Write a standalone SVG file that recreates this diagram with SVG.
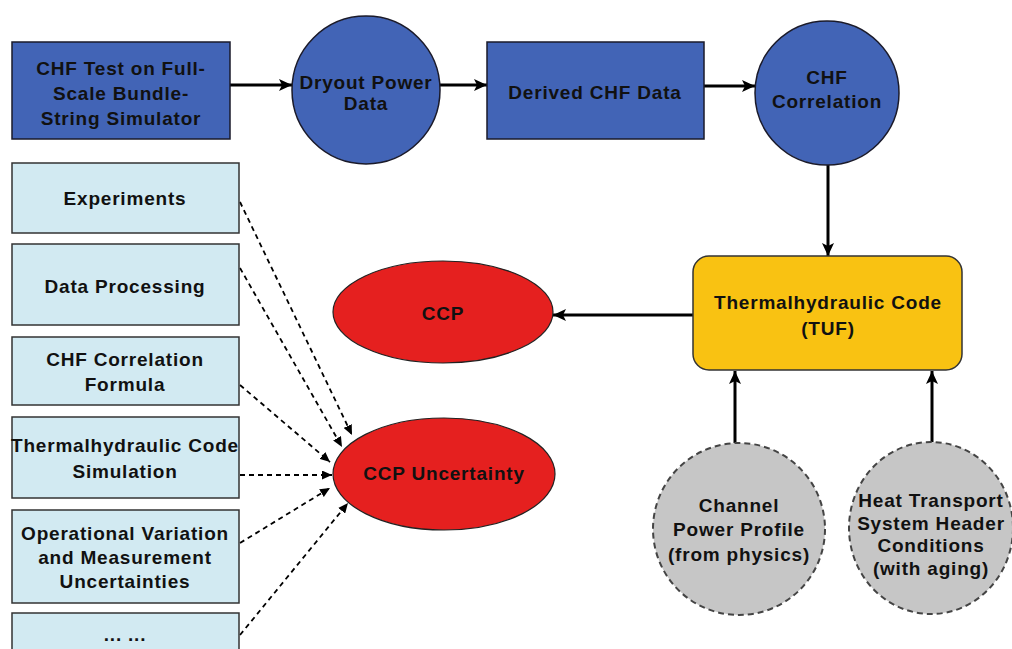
<svg xmlns="http://www.w3.org/2000/svg" width="1012" height="649" viewBox="0 0 1012 649">
<defs>
<marker id="ah" markerUnits="userSpaceOnUse" markerWidth="14" markerHeight="12" refX="13" refY="6" orient="auto"><path d="M0,0 L13,6 L0,12 L3,6 Z" fill="#000"/></marker>
<marker id="ahs" markerUnits="userSpaceOnUse" markerWidth="11" markerHeight="9" refX="10" refY="4.5" orient="auto"><path d="M0,0 L10,4.5 L0,9 Z" fill="#000"/></marker>
</defs>
<style>
.t{font-family:"Liberation Sans",Arial,sans-serif;font-weight:bold;font-size:19px;letter-spacing:0.8px;fill:#111;text-anchor:middle;dominant-baseline:central}
.blue{fill:#4264b6;stroke:#1a1a2a;stroke-width:1.5}
.lb{fill:#d2eaf2;stroke:#333;stroke-width:1.5}
.red{fill:#e5201f;stroke:#222;stroke-width:1.2}
.grey{fill:#c6c6c6;stroke:#444;stroke-width:2;stroke-dasharray:6,4}
.thick{stroke:#000;stroke-width:3;fill:none;marker-end:url(#ah)}
.dash{stroke:#000;stroke-width:1.8;fill:none;stroke-dasharray:5,4;marker-end:url(#ahs)}
</style>
<rect width="1012" height="649" fill="#fff"/>
<g id="connectors">
<line class="thick" x1="230" y1="85" x2="292" y2="85"/>
<line class="thick" x1="440" y1="85" x2="487" y2="85"/>
<line class="thick" x1="704" y1="86" x2="755" y2="86"/>
<line class="thick" x1="828" y1="165" x2="828" y2="256"/>
<line class="thick" x1="693" y1="315" x2="553" y2="315"/>
<line class="thick" x1="735" y1="443" x2="735" y2="371"/>
<line class="thick" x1="932" y1="442" x2="932" y2="371"/>
<line class="dash" x1="240" y1="202" x2="352" y2="435"/>
<line class="dash" x1="240" y1="268" x2="342" y2="447"/>
<line class="dash" x1="240" y1="385" x2="330" y2="462"/>
<line class="dash" x1="240" y1="475" x2="332" y2="475"/>
<line class="dash" x1="240" y1="543" x2="330" y2="488"/>
<line class="dash" x1="240" y1="635" x2="348" y2="503"/>
</g>
<g id="chf-test"><rect class="blue" x="12" y="42" width="218" height="97"/>
<text class="t" x="121" y="68">CHF Test on Full-</text><text class="t" x="121" y="93">Scale Bundle-</text><text class="t" x="121" y="118">String Simulator</text></g>
<g id="dryout"><circle class="blue" cx="366" cy="90" r="74"/>
<text class="t" x="366" y="82">Dryout Power</text><text class="t" x="366" y="103">Data</text></g>
<g id="derived"><rect class="blue" x="487" y="42" width="217" height="97"/>
<text class="t" x="595" y="92">Derived CHF Data</text></g>
<g id="chf-corr"><circle class="blue" cx="827" cy="93" r="72"/>
<text class="t" x="827" y="77">CHF</text><text class="t" x="827" y="101">Correlation</text></g>
<g id="tuf"><rect x="693" y="256" width="269" height="114" rx="16" fill="#f9c212" stroke="#333" stroke-width="1.5"/>
<text class="t" x="828" y="302">Thermalhydraulic Code</text><text class="t" x="828" y="328">(TUF)</text></g>
<g id="ccp"><ellipse class="red" cx="443" cy="312" rx="110" ry="51"/>
<text class="t" x="443" y="313">CCP</text></g>
<g id="ccp-unc"><ellipse class="red" cx="444" cy="474" rx="111" ry="56"/>
<text class="t" x="444" y="473">CCP Uncertainty</text></g>
<g id="channel"><circle class="grey" cx="739" cy="529" r="86"/>
<text class="t" x="739" y="505">Channel</text><text class="t" x="739" y="529">Power Profile</text><text class="t" x="739" y="554">(from physics)</text></g>
<g id="hts"><ellipse class="grey" cx="931" cy="528" rx="82" ry="86"/>
<text class="t" x="931" y="500">Heat Transport</text><text class="t" x="931" y="523">System Header</text><text class="t" x="931" y="545">Conditions</text><text class="t" x="931" y="568">(with aging)</text></g>
<g id="experiments"><rect class="lb" x="12" y="163" width="227" height="70"/>
<text class="t" x="125" y="198">Experiments</text></g>
<g id="data-proc"><rect class="lb" x="12" y="244" width="227" height="81"/>
<text class="t" x="125" y="286">Data Processing</text></g>
<g id="formula"><rect class="lb" x="12" y="337" width="227" height="68"/>
<text class="t" x="125" y="359">CHF Correlation</text><text class="t" x="125" y="384">Formula</text></g>
<g id="th-sim"><rect class="lb" x="12" y="417" width="227" height="81"/>
<text class="t" x="125" y="445">Thermalhydraulic Code</text><text class="t" x="125" y="471">Simulation</text></g>
<g id="oper"><rect class="lb" x="12" y="510" width="227" height="93"/>
<text class="t" x="125" y="533">Operational Variation</text><text class="t" x="125" y="557">and Measurement</text><text class="t" x="125" y="581">Uncertainties</text></g>
<g id="more"><rect class="lb" x="12" y="613" width="227" height="50"/>
<text class="t" x="125" y="634">... ...</text></g>
</svg>
